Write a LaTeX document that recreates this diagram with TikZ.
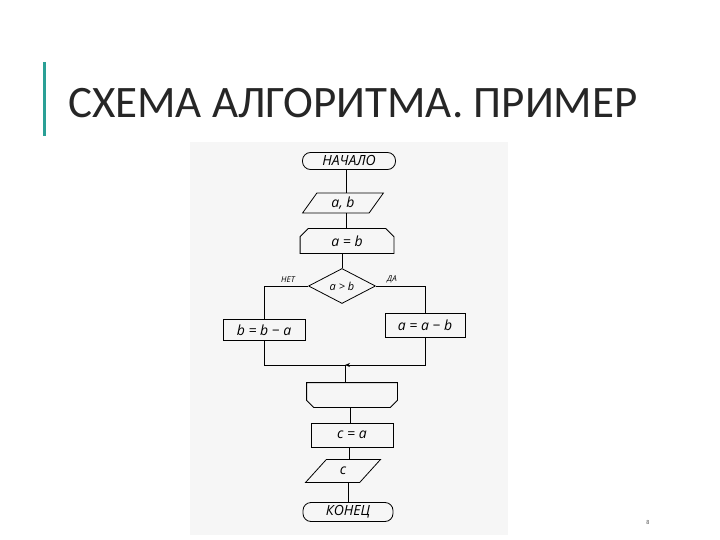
\documentclass[tikz,border=0pt]{standalone}
\usepackage{fontspec}
\setmainfont{Carlito}
\newfontfamily\hand{Open Sans}
\usetikzlibrary{shapes.geometric,arrows.meta,calc}
\definecolor{teal1}{RGB}{42,160,150}
\definecolor{photo}{RGB}{246,246,246}
\tikzset{
  fl/.style={draw=black, line width=0.8pt, inner sep=0pt, font=\hand\itshape\fontsize{14}{15}\selectfont},
  term/.style={fl, rectangle, rounded corners=8pt},
  proc/.style={fl, rectangle},
  io/.style={fl, trapezium, trapezium left angle=63, trapezium right angle=117, trapezium stretches=true},
  loopbox/.style={fl, draw=none, rectangle},
  dec/.style={fl, diamond, aspect=1.9, font=\hand\itshape\fontsize{11}{12}\selectfont},
  conn/.style={line width=0.8pt},
  lbl/.style={font=\hand\itshape\fontsize{8}{9}\selectfont, inner sep=1pt}
}
\begin{document}
\begin{tikzpicture}[x=1pt,y=-1pt]
\useasboundingbox (0,0) rectangle (720,540);
\fill[photo] (190,142) rectangle (508,535);
\fill[teal1] (43,62) rectangle (45.5,136);
\node[anchor=base west, inner sep=0pt, font=\fontsize{45}{48}\selectfont, text=black!85] (title) at (68,118) {СХЕМА АЛГОРИТМА. ПРИМЕР};
\node[font=\fontsize{6}{7}\selectfont, text=black!70] (pg) at (648,522) {8};

\node[term, minimum width=93pt, minimum height=17pt] (start) at (349,161) {НАЧАЛО};
\node[io, minimum width=81pt, minimum height=20pt] (ab) at (343,203) {a, b};
\node[loopbox, minimum width=93pt, minimum height=24pt] (ls) at (347,241) {a = b};
\draw[conn] ($(ls.south west)$) -- ($(ls.north west)+(0,8)$) -- ($(ls.north west)+(8,0)$) -- ($(ls.north east)+(-8,0)$) -- ($(ls.north east)+(0,8)$) -- (ls.south east) -- cycle;
\node[dec, minimum width=67pt, minimum height=35pt] (cond) at (342,286) {a > b};
\node[proc, minimum width=82pt, minimum height=21pt] (no) at (264,330) {b = b − a};
\node[proc, minimum width=80pt, minimum height=24pt] (yes) at (425,325) {a = a − b};
\coordinate (merge) at (345,365);
\node[loopbox, minimum width=90pt, minimum height=24pt] (le) at (352,395) {};
\draw[conn] (le.north west) -- (le.north east) -- ($(le.south east)+(0,-7)$) -- ($(le.south east)+(-7,0)$) -- ($(le.south west)+(7,0)$) -- ($(le.south west)+(0,-7)$) -- cycle;
\node[proc, minimum width=82pt, minimum height=24pt] (ca) at (352,435) {c = a};
\node[io, minimum width=75pt, minimum height=23pt] (cout) at (343,471) {c};
\node[term, minimum width=90pt, minimum height=19pt] (end) at (348,512) {КОНЕЦ};

\coordinate (trunk) at (346,0);
\draw[conn] (start.south -| trunk) -- (ab.north -| trunk);
\draw[conn] (ab.south -| trunk) -- (ls.north -| trunk);
\draw[conn] (ls.south -| cond.north) -- (cond.north);
\draw[conn] (cond.west) -| (no.north);
\draw[conn] (cond.east) -| (yes.north);
\draw[conn] (no.south) |- (merge);
\draw[conn, -{Stealth[length=5pt,width=4pt]}] (yes.south) |- (merge);
\draw[conn] (merge) -- (le.north -| merge);
\draw[conn] ($(le.south -| ca.north)+(-2,0)$) -- ($(ca.north)+(-2,0)$);
\draw[conn] ($(ca.south -| cout.north)+(6,0)$) -- ($(cout.north)+(6,0)$);
\draw[conn] ($(cout.south)+(5,0)$) -- ($(end.north -| cout.south)+(5,0)$);
\node[lbl, anchor=south] (nolbl) at (288,284) {НЕТ};
\node[lbl, anchor=south] (yeslbl) at (392,284) {ДА};
\end{tikzpicture}
\end{document}
